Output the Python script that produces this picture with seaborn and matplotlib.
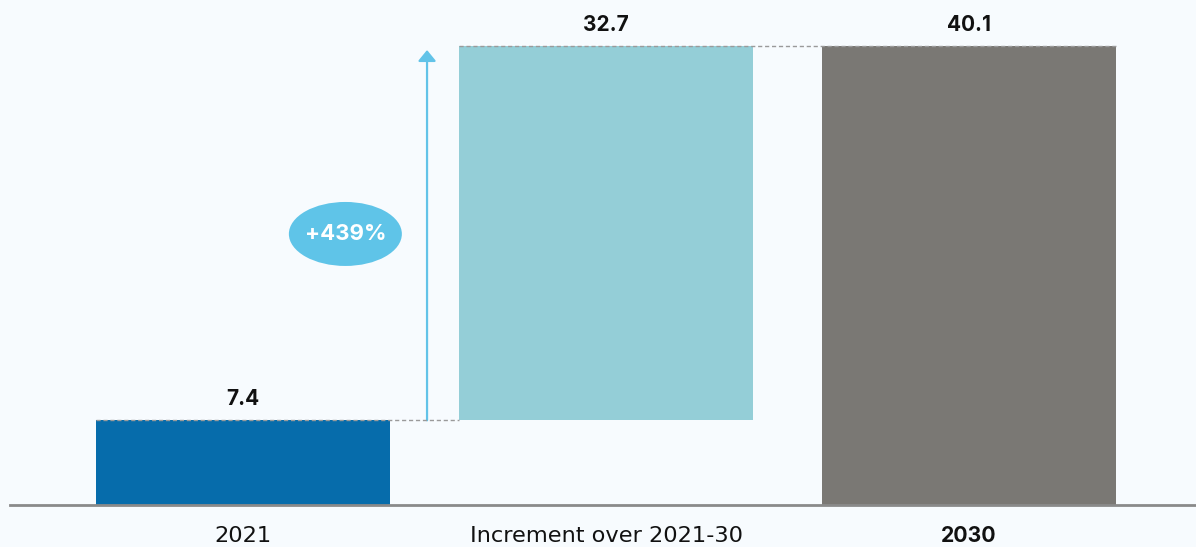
import matplotlib
matplotlib.use("Agg")
import matplotlib.pyplot as plt
from matplotlib.patches import Ellipse
import seaborn as sns
import pandas as pd

categories = ["2021", "Increment over 2021-30", "2030"]
values = [7.4, 32.7, 40.1]
bottoms = [0.0, 7.4, 0.0]
value_labels = ["7.4", "32.7", "40.1"]
growth_label = "+439%"

colors = ["#066cab", "#94ced7", "#7a7874"]
bg = "#f7fbfe"

sns.set_theme(style="white")
plt.rcParams["font.family"] = ["Inter", "DejaVu Sans"]

fig = plt.figure(figsize=(11.96, 5.47), dpi=100, facecolor=bg)
ax = fig.add_axes([10 / 1196, 42 / 547, 1186 / 1196, 505 / 547])
ax.set_facecolor(bg)

df = pd.DataFrame({"cat": categories, "value": values, "bottom": bottoms})
W = 0.81
for i, row in df.iterrows():
    sns.barplot(x=[row["cat"]], y=[row["value"]], order=categories, color=colors[i],
                saturation=1, width=W, bottom=row["bottom"], errorbar=None, ax=ax,
                linewidth=0, zorder=2)

ax.set_xlim((10 - 243) / 363, (1196 - 243) / 363)
ax.set_ylim(0, 505 / 11.446)

# value labels
for i, row in df.iterrows():
    top = row["value"] + row["bottom"]
    ax.text(i, top + 1.85, value_labels[i], ha="center", va="center",
            fontsize=15, fontweight="bold", color="#111111", zorder=5)

# dashed connectors
ax.plot([-W / 2, 1 - W / 2], [values[0], values[0]], ls=(0, (3, 2)), lw=1,
        color="#9a9a9a", zorder=4)
ax.plot([1 - W / 2, 2 + W / 2], [values[2], values[2]], ls=(0, (3, 2)), lw=1,
        color="#9a9a9a", zorder=4)

# arrow
arrow_x = 0.507
ax.annotate("", xy=(arrow_x, 39.75), xytext=(arrow_x, values[0]),
            arrowprops=dict(arrowstyle="-|>,head_length=0.55,head_width=0.45",
                            color="#62c3e8", lw=1.6, shrinkA=0, shrinkB=0), zorder=3)

# ellipse with growth label
ell = Ellipse((0.282, 23.68), 113 / 363, 64 / 11.446, facecolor="#5fc4e8",
              edgecolor="none", zorder=4)
ax.add_patch(ell)
ax.text(0.282, 23.68, growth_label, ha="center", va="center", fontsize=16,
        fontweight="bold", color="white", zorder=5)

# axes styling
for s in ["top", "right", "left"]:
    ax.spines[s].set_visible(False)
ax.spines["bottom"].set_color("#8a8a8a")
ax.spines["bottom"].set_linewidth(2)
ax.spines["bottom"].set_zorder(6)
ax.set_yticks([])
ax.set_xlabel("")
ax.set_ylabel("")
ax.set_xticks(range(3))
ax.set_xticklabels(categories, fontsize=16.2, color="#111111", family=["DejaVu Sans"])
ax.tick_params(axis="x", length=0, pad=15)
lbl = ax.get_xticklabels()[2]
lbl.set_family(["Inter", "DejaVu Sans"])
lbl.set_fontweight("bold")
lbl.set_fontsize(15.3)

fig.savefig("out.png", dpi=100, facecolor=bg)
